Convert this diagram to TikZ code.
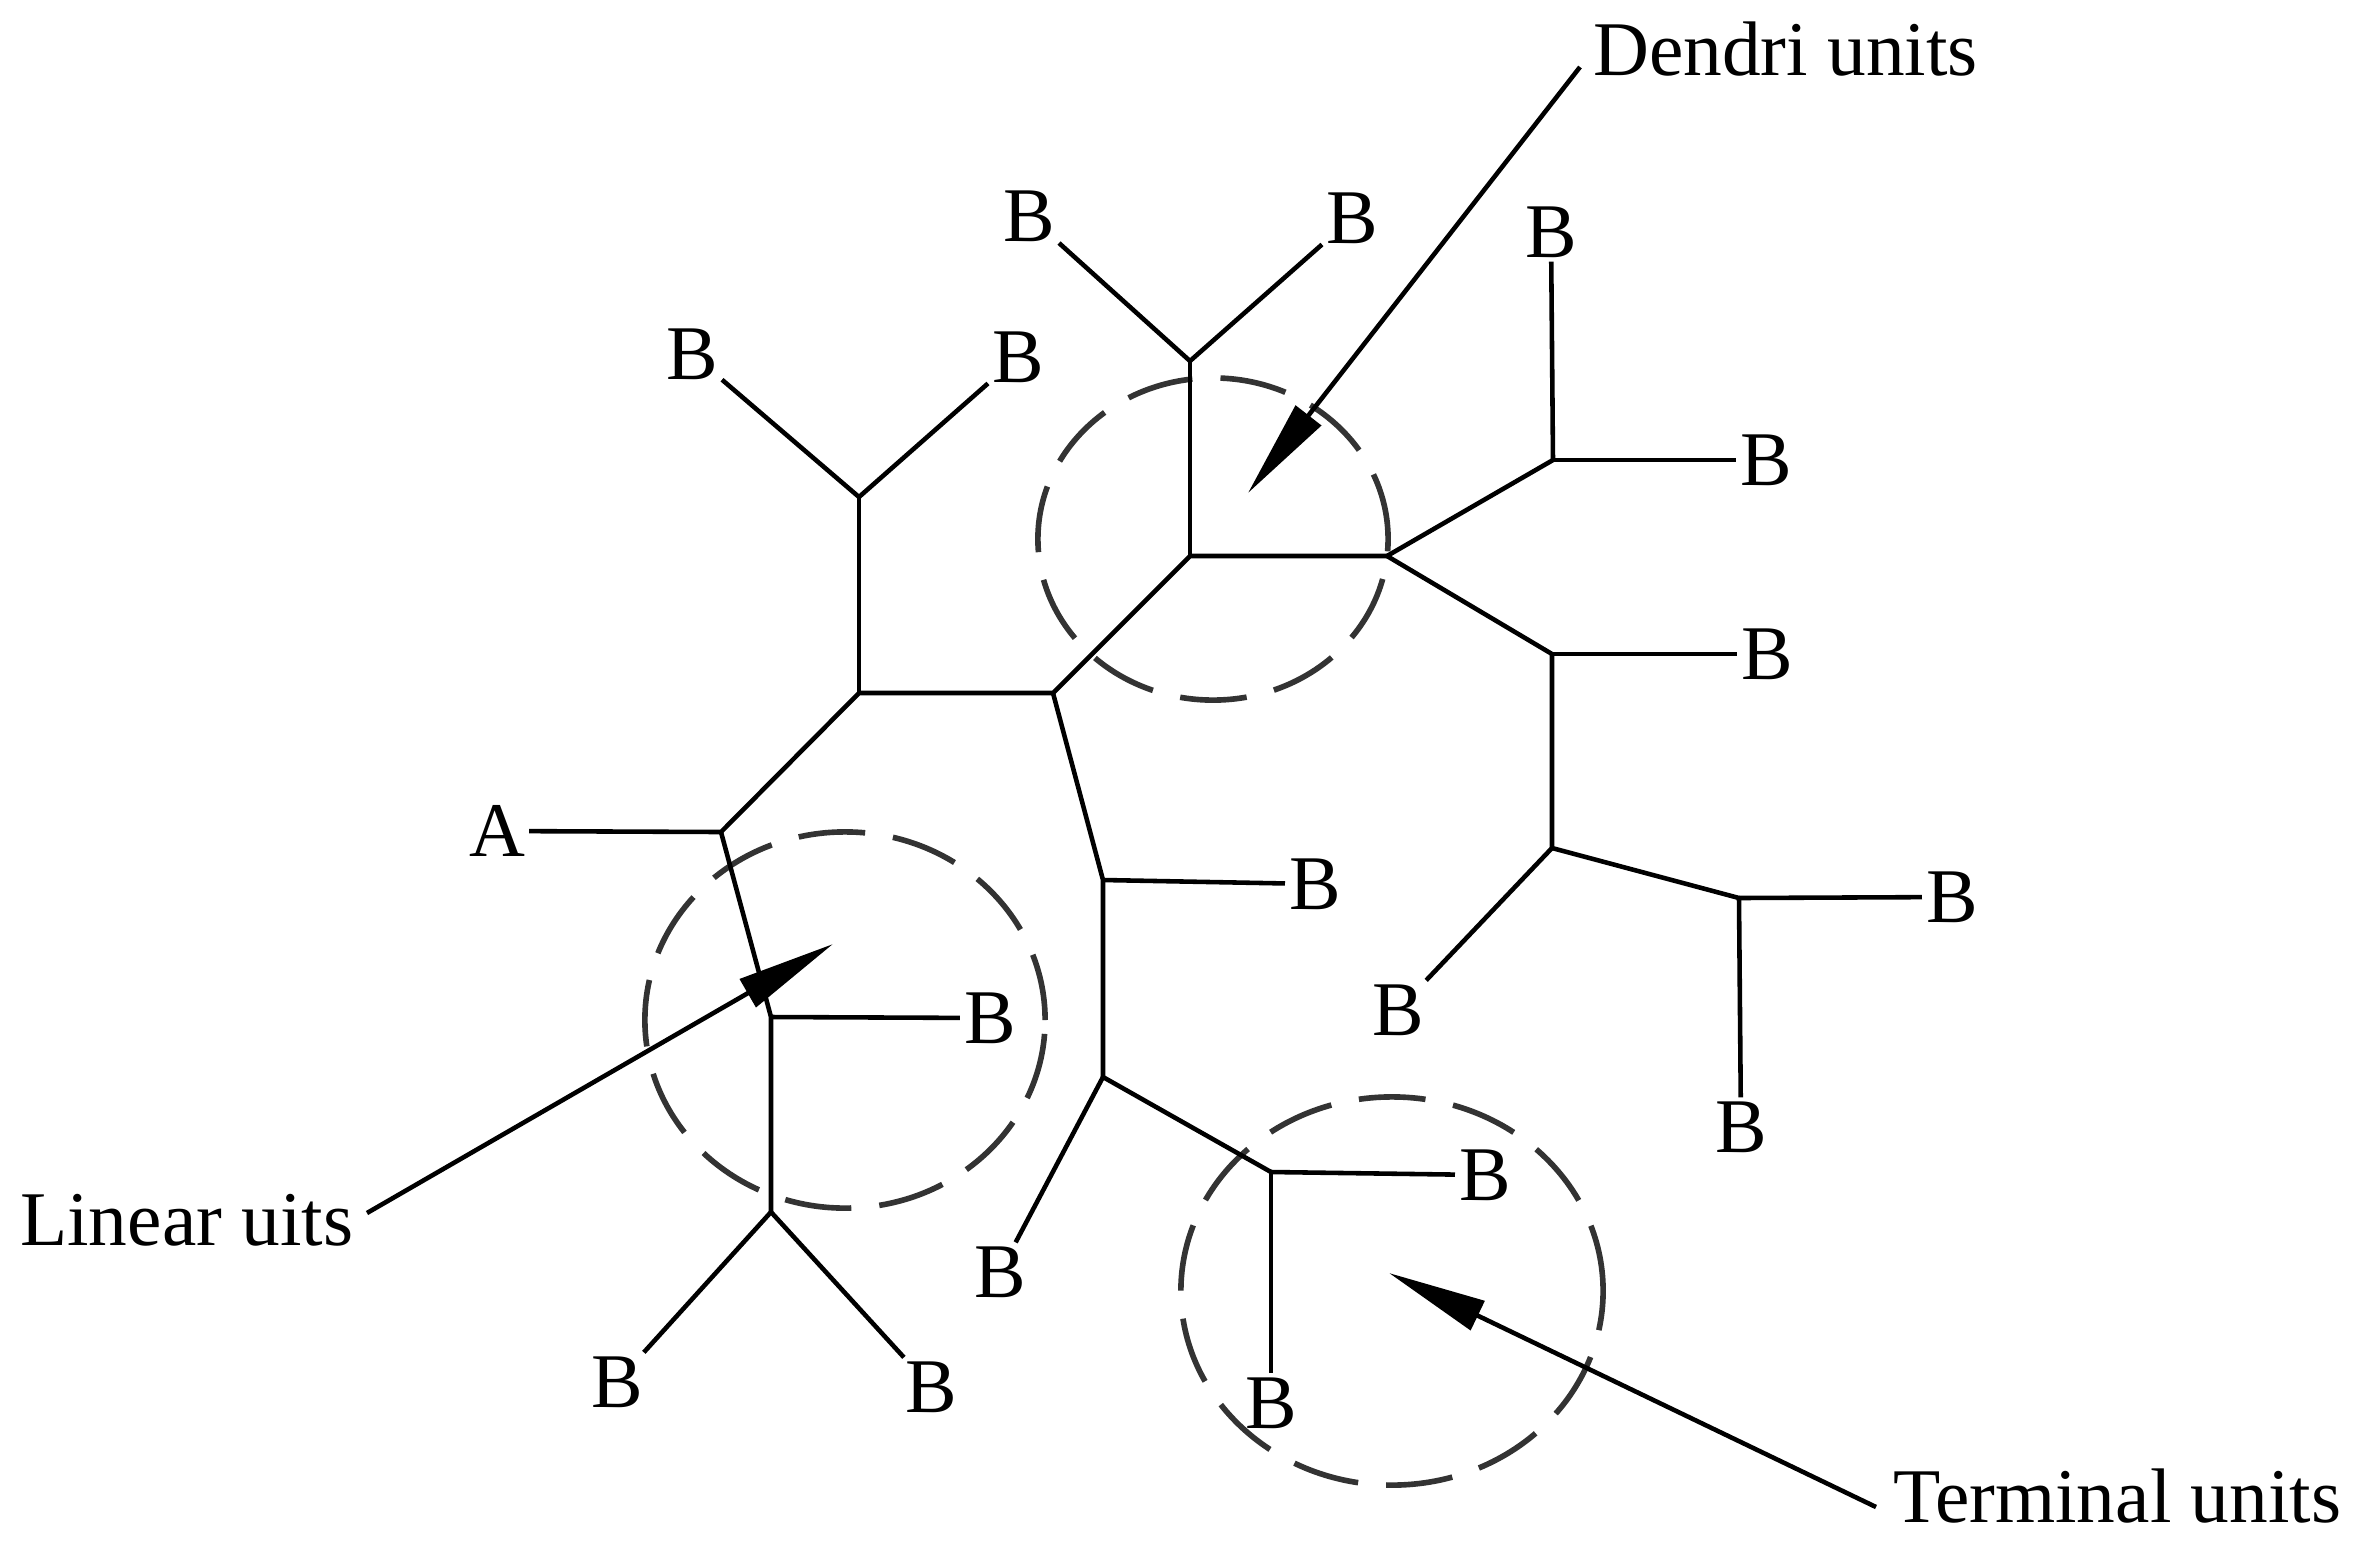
\documentclass[tikz,border=0pt]{standalone}
\usepackage{fontspec}
\setmainfont{Liberation Serif}
\usetikzlibrary{arrows.meta}
\begin{document}
\begin{tikzpicture}[x=0.01cm,y=-0.01cm,
  branch/.style={line width=1.3pt, line join=round},
  lbl/.style={inner sep=1pt, font=\fontsize{22}{26}\selectfont},
  unitcirc/.style={draw=black!80, line width=1.6pt, dash pattern=on 19pt off 8pt},
  ptr/.style={line width=1.3pt, -{Triangle[length=28pt,width=9pt]}}]
\useasboundingbox (0,0) rectangle (2362,1547);

% junctions
\coordinate (J1) at (721,832);
\coordinate (J2) at (859,693);
\coordinate (J3) at (771,1017);
\coordinate (J4) at (771,1212);
\coordinate (J5) at (859,497);
\coordinate (J6) at (1053,693);
\coordinate (J7) at (1190,556);
\coordinate (J8) at (1103,880);
\coordinate (J9) at (1103,1077);
\coordinate (J10) at (1271,1172);
\coordinate (J11) at (1190,361);
\coordinate (J12) at (1387,556);
\coordinate (J13) at (1553,460);
\coordinate (J14) at (1552,654);
\coordinate (J15) at (1552,848);
\coordinate (J16) at (1739,898);

% labels
\node[lbl] (A) at (497,831) {A};
\node[lbl] (b1) at (692,354) {B};
\node[lbl] (b2) at (1018,357) {B};
\node[lbl] (b3) at (1029,216) {B};
\node[lbl] (b4) at (1352,218) {B};
\node[lbl] (b5) at (1551,232) {B};
\node[lbl] (b6) at (1766,460) {B};
\node[lbl] (b7) at (1767,654) {B};
\node[lbl] (b8) at (1398,1010) {B};
\node[lbl] (b9) at (1952,897) {B};
\node[lbl] (b10) at (1741,1127) {B};
\node[lbl] (b11) at (1315,884) {B};
\node[lbl] (b12) at (990,1018) {B};
\node[lbl] (b13) at (1000,1272) {B};
\node[lbl] (b14) at (1485,1175) {B};
\node[lbl] (b15) at (1271,1403) {B};
\node[lbl] (b16) at (617,1382) {B};
\node[lbl] (b17) at (931,1387) {B};

% unit circles
\draw[unitcirc] (1213,539) ellipse [x radius=1.75cm, y radius=1.61cm];
\draw[unitcirc] (845,1020) ellipse [x radius=2.00cm, y radius=1.88cm];
\draw[unitcirc] (1392,1291) ellipse [x radius=2.11cm, y radius=1.94cm];

% branches
\draw[branch] (A) -- (J1) -- (J2) -- (J6) -- (J7) -- (J12);
\draw[branch] (J1) -- (J3) -- (J4);
\draw[branch] (J3) -- (b12);
\draw[branch] (J4) -- (b16);
\draw[branch] (J4) -- (b17);
\draw[branch] (J2) -- (J5);
\draw[branch] (J5) -- (b1);
\draw[branch] (J5) -- (b2);
\draw[branch] (J6) -- (J8) -- (J9) -- (J10);
\draw[branch] (J8) -- (b11);
\draw[branch] (J9) -- (b13);
\draw[branch] (J10) -- (b14);
\draw[branch] (J10) -- (b15);
\draw[branch] (J7) -- (J11);
\draw[branch] (J11) -- (b3);
\draw[branch] (J11) -- (b4);
\draw[branch] (J12) -- (J13);
\draw[branch] (J13) -- (b5);
\draw[branch] (J13) -- (b6);
\draw[branch] (J12) -- (J14) -- (J15) -- (J16);
\draw[branch] (J14) -- (b7);
\draw[branch] (J15) -- (b8);
\draw[branch] (J16) -- (b9);
\draw[branch] (J16) -- (b10);

% callouts
\node[lbl, anchor=base west] (dendri) at (1589,75) {Dendri units};
\node[lbl, anchor=base west] (linear) at (16,1245) {Linear uits};
\node[lbl, anchor=base west] (terminal) at (1889,1522) {Terminal units};
\coordinate (ds) at (1580,67);
\coordinate (dt) at (1248,493);
\coordinate (ls) at (367,1213);
\coordinate (lt) at (833,944);
\coordinate (ts) at (1876,1507);
\coordinate (tt) at (1389,1273);
\draw[ptr] (ds) -- (dt);
\draw[ptr] (ls) -- (lt);
\draw[ptr] (ts) -- (tt);
\end{tikzpicture}
\end{document}
